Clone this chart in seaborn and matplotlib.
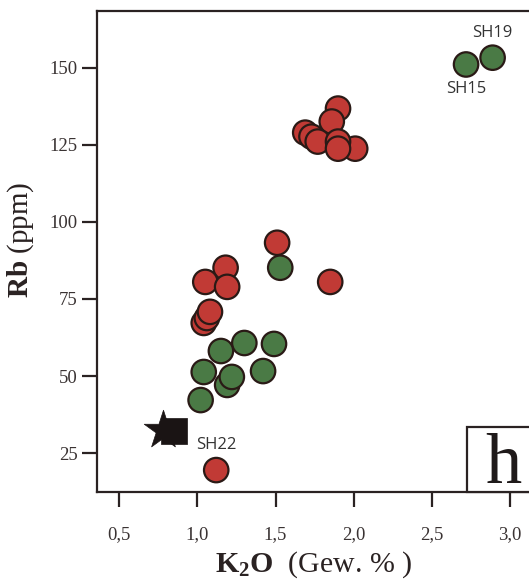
import pandas as pd
import numpy as np
import matplotlib
matplotlib.use("Agg")
import matplotlib.pyplot as plt
import seaborn as sns
from matplotlib.patches import Rectangle

# K2O (Gew. %) und Rb (ppm)
red_k2o = [2.01, 1.90, 1.86, 1.69, 1.73, 1.77, 1.90, 1.90, 1.51, 1.85, 1.18, 1.05, 1.19, 1.04, 1.06, 1.08, 1.12]
red_rb = [123.7, 136.7, 132.5, 128.9, 127.6, 126.0, 126.0, 123.7, 93.2, 80.5, 85.1, 80.5, 78.9, 67.2, 68.8, 70.8, 19.5]
green_k2o = [2.89, 2.72, 1.53, 1.30, 1.49, 1.15, 1.04, 1.42, 1.19, 1.22, 1.02]
green_rb = [153.2, 151.0, 85.1, 60.7, 60.4, 58.1, 51.3, 51.6, 47.1, 49.7, 42.2]
square_k2o, square_rb = [0.85], [32.2]
star_k2o, star_rb = [0.78], [32.5]

labels = ["SH19", "SH15", "SH22"]
label_k2o = [2.89, 2.72, 1.12]
label_rb = [153.2, 151.0, 19.5]
label_dy = [1, -1, 1]

xticks = [0.5, 1.0, 1.5, 2.0, 2.5, 3.0]
xticklabels = ["0,5", "1,0", "1,5", "2,0", "2,5", "3,0"]
yticks = [25, 50, 75, 100, 125, 150]

df = pd.DataFrame({
    "K2O": red_k2o + green_k2o,
    "Rb": red_rb + green_rb,
    "Gruppe": ["rot"] * len(red_k2o) + ["gruen"] * len(green_k2o),
})

sns.set_style("ticks")
plt.rcParams["font.family"] = ["Liberation Serif", "DejaVu Serif"]
plt.rcParams["mathtext.fontset"] = "custom"
plt.rcParams["mathtext.rm"] = "Liberation Serif"
plt.rcParams["mathtext.bf"] = "Liberation Serif:bold"

fig = plt.figure(figsize=(5.29, 5.87), dpi=100)
ax = fig.add_axes([0.1840, 0.1624, 0.8387, 0.8192])

edge = "#2a1a16"
sns.scatterplot(data=df, x="K2O", y="Rb", hue="Gruppe",
                palette={"rot": "#c13a35", "gruen": "#4a7a45"},
                s=310, edgecolor=edge, linewidth=1.6, legend=False, ax=ax, zorder=3)
sns.scatterplot(x=square_k2o, y=square_rb, marker="s", s=330, color="#1a1414",
                edgecolor="#1a1414", linewidth=0.5, legend=False, ax=ax, zorder=4)
sns.scatterplot(x=star_k2o, y=star_rb, marker="*", s=850, color="#1a1414",
                edgecolor="#1a1414", linewidth=0.5, legend=False, ax=ax, zorder=5)

for name, x, y, d in zip(labels, label_k2o, label_rb, label_dy):
    ax.annotate(name, (x, y), xytext=(0, 18 * d), textcoords="offset points",
                ha="center", va="center", fontsize=12, color="#333333",
                family=["Open Sans", "DejaVu Sans"], zorder=6)

ax.set_xlim(0.3586, 3.20)
ax.set_ylim(12.5, 168.4)
ax.set_xticks(xticks)
ax.set_xticklabels(xticklabels)
ax.set_yticks(yticks)
ax.tick_params(axis="both", direction="out", length=11, width=1.6, colors="#2a2222",
               labelsize=13.5, labelcolor="#3a3333")
ax.tick_params(axis="x", pad=14)
ax.tick_params(axis="y", pad=3)
for sp in ax.spines.values():
    sp.set_linewidth(1.6)
    sp.set_color("#2a2222")

ax.set_xlabel(r"$\mathbf{K_2O}$  (Gew. % )", fontsize=21.5, color="#2a2222")
ax.xaxis.set_label_coords(314 / 529, 1 - 565 / 587, transform=fig.transFigure)
ax.xaxis.label.set_va("center")
ax.set_ylabel(r"$\mathbf{Rb}$ (ppm)", fontsize=21, color="#2a2222")
ax.yaxis.set_label_coords(21 / 529, 1 - 240 / 587, transform=fig.transFigure)
ax.yaxis.label.set_va("center")

# Feldbuchstabe unten rechts
box = Rectangle((0.833, 0.0), 0.3, 0.134, transform=ax.transAxes, fill=True,
                facecolor="white", edgecolor="#2a2222", linewidth=1.6, zorder=7,
                clip_on=False)
ax.add_patch(box)
ax.text(0.916, 0.019, "h", transform=ax.transAxes, ha="center", va="baseline",
        fontsize=52, color="#1f1a1a", zorder=8)

fig.savefig("out.png", dpi=100)
